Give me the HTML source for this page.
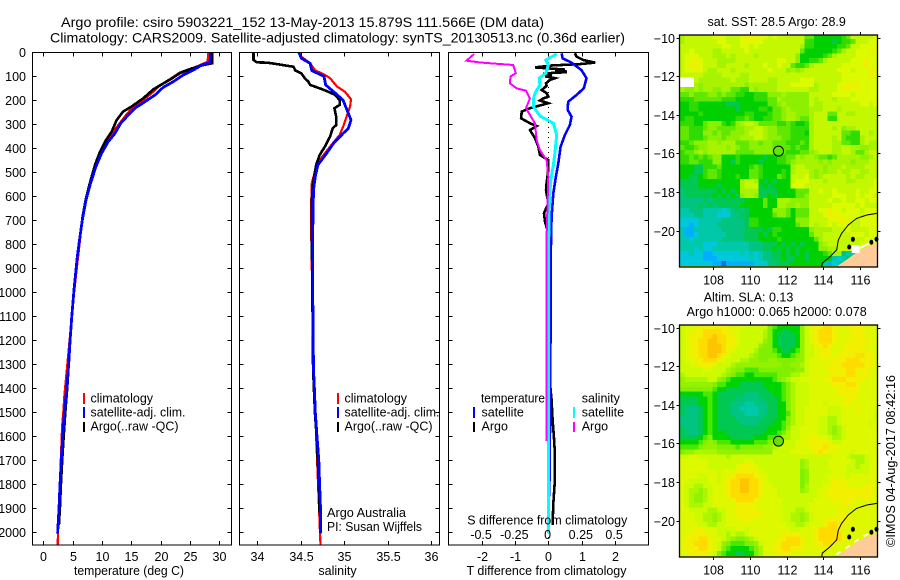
<!DOCTYPE html>
<html>
<head>
<meta charset="utf-8">
<title>Argo profile</title>
<style>
html,body{margin:0;padding:0;background:#fff;}
svg{display:block;}
text{font-family:"Liberation Sans",sans-serif;font-size:12.5px;fill:#000;}
</style>
</head>
<body>
<svg id="chart" xmlns="http://www.w3.org/2000/svg" width="900" height="580" viewBox="0 0 900 580">
<rect x="0" y="0" width="900" height="580" fill="#fff"/>
<text x="61" y="27" textLength="483" lengthAdjust="spacingAndGlyphs" style="font-size:14px">Argo profile: csiro 5903221_152 13-May-2013 15.879S 111.566E (DM data)</text>
<text x="50" y="42.5" textLength="575" lengthAdjust="spacingAndGlyphs" style="font-size:14px">Climatology: CARS2009. Satellite-adjusted climatology: synTS_20130513.nc (0.36d earlier)</text>

<g id="p1marks"></g>
<g id="p2marks"></g>
<g id="p3marks"></g>
<g id="axes"></g>

<rect x="32.5" y="52.5" width="199" height="492.5" fill="none" stroke="#000" shape-rendering="crispEdges"/>
<rect x="239.5" y="52.5" width="200" height="492.5" fill="none" stroke="#000" shape-rendering="crispEdges"/>
<rect x="448.5" y="52.5" width="200" height="492.5" fill="none" stroke="#000" shape-rendering="crispEdges"/>

<text x="129" y="575" text-anchor="middle" textLength="110" lengthAdjust="spacingAndGlyphs">temperature (deg C)</text>
<text x="337.5" y="575" text-anchor="middle">salinity</text>
<text x="546.5" y="575" text-anchor="middle" textLength="160" lengthAdjust="spacingAndGlyphs">T difference from climatology</text>
<text x="547.3" y="524.5" text-anchor="middle" textLength="160" lengthAdjust="spacingAndGlyphs">S difference from climatology</text>

<g>
<rect x="83" y="393" width="2" height="11" fill="#f00"/>
<text x="90.5" y="402.5">climatology</text>
<rect x="83" y="407" width="2" height="11" fill="#00f"/>
<text x="90.5" y="416.5" textLength="95" lengthAdjust="spacingAndGlyphs">satellite-adj. clim.</text>
<rect x="83" y="422" width="2" height="10" fill="#000"/>
<text x="90.5" y="430.5" textLength="88" lengthAdjust="spacingAndGlyphs">Argo(..raw -QC)</text>
</g>
<g>
<rect x="337" y="393" width="2" height="11" fill="#f00"/>
<text x="344.5" y="402.5">climatology</text>
<rect x="337" y="407" width="2" height="11" fill="#00f"/>
<text x="344.5" y="416.5" textLength="95" lengthAdjust="spacingAndGlyphs">satellite-adj. clim.</text>
<rect x="337" y="422" width="2" height="10" fill="#000"/>
<text x="344.5" y="430.5" textLength="88" lengthAdjust="spacingAndGlyphs">Argo(..raw -QC)</text>
</g>
<text x="327" y="517" textLength="79" lengthAdjust="spacingAndGlyphs">Argo Australia</text>
<text x="327" y="531" textLength="95" lengthAdjust="spacingAndGlyphs">PI: Susan Wijffels</text>
<g>
<text x="481" y="402.5" textLength="64" lengthAdjust="spacingAndGlyphs">temperature</text>
<rect x="473" y="407" width="2" height="11" fill="#00f"/>
<text x="481.5" y="416.5">satellite</text>
<rect x="473" y="422" width="2" height="10" fill="#000"/>
<text x="481.5" y="430.5">Argo</text>
<text x="581.7" y="402.5">salinity</text>
<rect x="573" y="407" width="2" height="11" fill="#0ff"/>
<text x="581.7" y="416.5">satellite</text>
<rect x="573" y="422" width="2" height="10" fill="#f0f"/>
<text x="581.7" y="430.5">Argo</text>
</g>

<g id="map1"></g>
<g id="map2"></g>

<text x="776.7" y="26" text-anchor="middle">sat. SST: 28.5  Argo: 28.9</text>
<text x="748.5" y="301.5" text-anchor="middle">Altim. SLA: 0.13</text>
<text x="776.7" y="316" text-anchor="middle" textLength="180" lengthAdjust="spacingAndGlyphs">Argo h1000: 0.065 h2000: 0.078</text>
<text transform="translate(895,547) rotate(-90)" textLength="172" lengthAdjust="spacingAndGlyphs">©IMOS 04-Aug-2017 08:42:16</text>
</svg>

<script>
// ---------- profile axis ticks ----------
var depthTicks = [0,100,200,300,400,500,600,700,800,900,1000,1100,1200,1300,1400,1500,1600,1700,1800,1900,2000];
var tempTicks = [0,5,10,15,20,25,30];
var salTicks = [34,34.5,35,35.5,36];
var tDiffTicks = [-2,-1,0,1,2];
var sDiffTicks = [-0.5,-0.25,0,0.25,0.5];
var sDiffTickLabels = ['-0.5','-0.25','0','0.25','0.5'];

// ---------- temperature profiles ----------
var tempClimDepth = [0,39,53,71,88,115,136,164,199,226,261,303,330,372,421,476,532,615,685,1000,1430,1500,1560,2000,2054];
var tempClimValue = [28.1,28.0,26.7,25,23.3,21.6,19.9,18.75,17.05,15.35,14.1,12.8,11.9,10.8,9.66,8.8,8.07,7.27,6.7,5.25,3.6,3.4,3.2,2.5,2.45];
var tempArgoDepth = [0,46,53,67,85,108,129,154,192,226,247,282,330,365,414,469,532,608,685,768,851,935,990,1100,1200,1300,1400,1500,1600,1700,1800,1900,1970];
var tempArgoValue = [28.8,28.8,27.3,25.3,23.3,21.9,20.5,18.75,17.0,15.05,13.6,12.5,11.65,10.7,9.66,8.8,8.07,7.27,6.7,6.25,5.8,5.45,5.23,4.85,4.56,4.32,4.08,3.75,3.47,3.22,3.0,2.82,2.65];
var tempSatDepth = [0,43,53,74,94,122,146,178,206,233,261,296,338,372,421,476,539,615,699,768,851,935,990,1100,1200,1300,1400,1500,1600,1700,1800,1900,2005];
var tempSatValue = [28.47,28.41,26.99,25.57,23.86,22.16,20.45,19.03,17.33,15.63,14.49,13.18,12.22,11.08,9.94,8.98,8.13,7.27,6.65,6.25,5.8,5.45,5.23,4.85,4.56,4.32,3.98,3.6,3.3,3.07,2.84,2.67,2.44];

// ---------- salinity profiles ----------
var salClimDepth = [0,18,46,76,90,108,143,164,196,226,268,310,344,393,449,490,546,671,1320,2054];
var salClimValue = [34.48,34.51,34.61,34.67,34.76,34.84,34.92,35.01,35.08,35.07,35.03,34.99,34.95,34.84,34.72,34.67,34.63,34.62,34.65,34.73];
var salArgoDepth = [0,32,42,43,49,56,60,76,88,108,122,136,150,164,178,199,219,233,268,303,317,351,393,428,469,511,560,615,754,1320,1500,1600,1800,1920];
var salArgoValue = [33.96,33.96,34.0,34.11,34.23,34.34,34.42,34.44,34.51,34.55,34.59,34.61,34.72,34.82,34.9,34.95,34.95,34.89,34.91,34.91,34.87,34.84,34.78,34.72,34.68,34.66,34.64,34.63,34.63,34.645,34.665,34.685,34.71,34.72];
var salSatDepth = [0,25,46,76,101,136,164,199,254,282,317,338,379,421,469,518,574,754,990,1320,1400,1500,1600,1700,1800,1900,2005];
var salSatValue = [34.48,34.51,34.61,34.63,34.77,34.79,34.88,34.99,35.05,35.08,35.05,34.99,34.88,34.8,34.7,34.67,34.65,34.64,34.64,34.65,34.66,34.67,34.69,34.71,34.72,34.73,34.73];

// ---------- difference profiles ----------
var diffTArgoDepth = [4,18,32,43,49,55,63,68,72,76,80,83,87,90,96,100,108,115,129,140,157,170,185,192,201,212,233,247,275,296,307,324,358,393,428,449,490,546,574,629,671,706,754,782,1000,1380,1449,1532,1602,1671,1782,1880,1970];
var diffTArgoValue = [0.80,0.85,1.05,1.41,0.95,0.1,-0.4,0.1,0.5,0.2,0.53,0.53,0,-0.15,0.1,-0.1,0.2,0.05,-0.07,-0.05,-0.2,-0.05,0,-0.15,-0.25,0,-0.55,-0.8,-0.82,-0.55,-0.35,-0.55,-0.4,-0.3,-0.25,0,0,-0.05,-0.07,0,-0.13,-0.1,0,-0.03,0.02,0.05,0.1,0.13,0.17,0.2,0.2,0.15,0.13];
var diffTSatDepth = [4,25,43,74,108,150,178,206,240,268,303,344,393,463,518,588,685,782,1000,1450,1850];
var diffTSatValue = [0.4,0.43,0.7,1.0,1.15,1.07,0.85,0.6,0.58,0.7,0.65,0.5,0.37,0.3,0.23,0.15,0.1,0.08,0.07,0.06,0.03];
var diffSArgoDepth = [7,35,43,53,87,101,129,150,160,192,233,296,365,407,449,518,768,1620];
var diffSArgoValue = [-0.558,-0.616,-0.503,-0.264,-0.244,-0.284,-0.289,-0.239,-0.168,-0.138,-0.168,-0.1,-0.088,-0.063,-0.013,0,-0.013,-0.015];
var diffSSatDepth = [7,32,53,87,108,136,171,196,226,265,296,344,421,469,532,615,712,782,1200,1800,2005];
var diffSSatValue = [0.063,-0.018,0,-0.018,-0.068,-0.063,-0.1,-0.113,-0.113,-0.063,0.038,0.063,0.05,0.038,0.018,0.008,0.005,0.003,0.003,0.002,0];

// ---------- map data: one character per 0.25-degree cell, hex level, w = no data ----------
var mapLonTicks = [108,110,112,114,116];
var mapLatTicks = [-10,-12,-14,-16,-18,-20];
var profileLon = 111.566;
var profileLat = -15.879;
var sstRows = [
"abbbbbbcccbbbcdcdccbcbbbbbb8866666678bbbbbc",
"abbbbbbbccbbbccdccbbbbbbbbb77666656778bbbcc",
"bbbbbbbbbccbbccbcbbbbbbbbba7766666778bbcccc",
"bbcbbbbaabbbbbcbbbbbbbbbbb866666678abbcccdc",
"bcccbbbaaababbbbabbbbbbbb96666678abbbbccccc",
"bccdcbbbaaaabbbbbbbbbccbb966778abbbbbcccdcc",
"bcddcbbbaabbbbabbbcbbcbb8778abbbbbbcccccdcc",
"bccdcbaabbbabbbbbbbcbbb9a9abbbbbbbcccbcccdc",
"bbbbbaaaabbbbaabbbbbbbbbbbbbbbbbbbbccccccdc",
"wwwbaaaaaaabaaabbbbaabbbbbcccbbbbbbcccccccc",
"wwwa9aaaaaaaaa9aaaaaabbbcccccabbbbccdddcccc",
"a99a9aa99aa8877a9aaaabbbbbbbaabbbbcddcdcccc",
"8898889989 8877667779 99a99999 bbbbbccccbccccc",
"7778888887 7766667778 8a999999 babbbabbbcccccc",
"6677666666 5556666668 89a99999 baabbbbbbbbccbc",
"6677666666 6656666776 889a9999 aaabbbabbbbbbbb",
"6666766666 6666776667 889aa999 abbb88bbaabbbbb",
"6776666666 6677876677 889aa988 abbb77bbbbbbbbb",
"777 66 8999 767 9 abba 8888 778 7667 abbbbbbbbbbbbbb",
"88 777 8998 888 99 aabba 99 888 7777 abbbbab9aabbbbb",
"88 777 9989 889 99 abbba 99 888 7776 abbbbbb8877bbab",
"88 777 8999 899 9a aabba 99 988 7777 abbbbab8777abbb",
"778 999 aa9aaa 888 99899 88 877787 abbbbaa8877abaa",
"877 899 aaaa9a 988 99999 88 887877 abbbbaabbaa99aa",
"788 9a9 aaaaaa 888 89999 88 877788 9abbbaabba88abb",
"77 87878 99 666 7 6666 6566 77 88a9a a98878aaaaa99ab",
"77 88777 99 665 7 6666 5666 77 89aaa aa9a9aaaa9aaabb",
"666 55 7778 666 666 787 666 666 abba aaa9aaabaaaabbb",
"666 55 7887 666 666 887 666 676 abbb a9a9aabaabbaabb",
"665 56 7887 666 766 887 666 876 bbbc a9abbbbbabaabbb",
"5555 666 666 666 abba 6 565 666 bccc bbbabbbbaabbbbc",
"5555 666 656 666 abbb 5 656 666 cccb bbbbbbbbbbbbbbc",
"4 555555 565656 aaaa 5555 6666 888 bbcbbcbbbbcbbcc",
"4 555555 656565 9aa9 5565 6666 889 bbbbbcccbbcbccb",
"4444 4545 555555 6666 8 66 aaa 9999 bbbbcbbcbbccbcc",
"4444 5454 555556 6666 8 66 aa9 9a99 bbbbbcccccbcbbb",
"33 444 33 3 323 4545 666 66 9998 6 888 bbccdccbcccbccc",
"33 344 33 3 222 4455 666 66 8998 6 888 bbbcddcccccbccc",
"2222 3333 3 44444 5 77 666 6666 6 999 bbbbccddccbcccc",
"2212 3333 4 44444 5 77 666 6666 6 899 babbcbcccbbcccc",
"3 11 333333 44444 555 565 77 666666 9aaaabbbcbbbbcc",
"3 11 233333 34444 555 656 76 666666 8aabbbbbbcccbcc",
"3 32 333333 44444 555 666 67 666666 68abbbbbbbbbccc",
"33333 222 3 333333 444 5556565656 669abbbbbbbcccc",
"33323 223 3 333333 444 5565656566 6699aabbbbbcbcb",
"22322 11 22 2222 32323 44 55656565 66678aa43355666",
"22222 11 12 2222 22323 44 55655665 666663234555666",
"2222222 11 0 11 1111 222 44 555 6666 666312345666666"
];
var slaRows = [
"bcccdddddddcccbbbbb87666669bcddeedccddddccc",
"bccddeeeeddccbbbbba86655669bcdeeedcccdddccc",
"bcdddeefeeddcbbbbba86555569bcdeeedcccdddccc",
"bcddeeffeeddcbbbbb986555569bcdeeedccdddddcc",
"bcddeefffeddcbbbb9886555569bbddedcccddddccc",
"bcddeefffedcbbbba8887655679bbcdddccddddddcc",
"bcddeeffedcbbbba98888766789bbcdddcddddeeddc",
"bccddeeedcbbbaa998899888899bcccdcdddeeedddc",
"bbccdddcbbba99999999998899abccccdddeeeeeddc",
"bbbbbccbbba9887778888888899bccccddddeedddcc",
"abbbbbbbba98776677777888aabbcccccdddeedddcc",
"9aaaaabb987666666666789abbcccccddeeeddddcc",
"99999998776665555566 6678abbbcccccdddeedcccc",
"88888887665555555556 6678abbbccccccdddddcccc",
"66666776555555444555 6678abbbccccccdddddcccc",
"55556676555544444455 5678abbbccccccccddccccc",
"55556676555444334445 5668abbbcccbcccddcccccc",
"54445676555443333445 5668abbcccccbbbcccdcccc",
"54445676555444333445 5667abbcccccbbbcccccccb",
"44445676555544444455 5668abbcccbbaabcccccccbc",
"44445676555554444555 6678abbcccbbaabccccccbc",
"54445676555555555556 6679bbccccbba9abcccc ccc",
"54445676665555555566 678abbccccbba9abccccccc",
"55556786666555556667 78aabbccddccbaabccccccc",
"66667898777666667778 9abbbcccddddcbbcccccccc",
"77778999888878888899 abbbbcccdddeddccccccccc",
"899aaaaa999999999999 bbbbcccccdedcccccbccccc",
"bbccbbbbbbabbbbbbbbbbbbbbbbbbbbbbcccbaaabcc",
"ccccccbbbbbbbbccbbbbbbbbbb9abbbbcccccbaabcc",
"ccccccbbbbbbcdddcbbbbbbbbb9abbbbccccbbabbcc",
"ccccccccbcccdddddcbbbbbbbb89bbbbbcccbbbbbcc",
"ccccbbccbccdeeeedccbbbbbbb89bbbbccccbcccccc",
"ccbbbbccbcdeeffeedcbbbbbbb89bbbbcdddccccccc",
"cbbaabbcccdeeffeedccbbbbbb8abbbccddddcccddc",
"cbaa9abcccdeeffeedcccbbbbb9abbccddddddddddc",
"cba99abcccdeeeeeedcccbbbbbbbbbccddddddddddc",
"cba99abccccdeeeedcccccbbbbbbbccccdddddccdcc",
"cbaaabbcccccddddccccccbbbbbbcccccccddcccccc",
"ccbbbbaabbccdddddcccccbbbaabccccccdcccccccc",
"cccbbaa9abccddddddccccbbaa9abcccccdddcccccc",
"cccbbaa9abcccdddccccccbbaa9abcccdddddcccccc",
"ccccbbaabbcccccccccccccbbaabcccdeeddccccccc",
"cccddcccbbbbccbcccccccccbbcccdeeeedcccccccc",
"ccddddccbbabaabcccccccddddcccdeeeeedccccccc",
"cdddeedccba9889abccccddeeedccdeeeeedccccccc",
"cddeeedcb98777889bccddeeeedccddeedccccccccc",
"cdddeedcb87666678accddeedddcccddccccccccccc",
"ccddddcb876655668acccdddccccccccccccccccccc"
];
var sstColors = {'0':'#0068ff','1':'#00b0ff','2':'#00c8dc','3':'#00c8a8','4':'#00c480','5':'#00c850','6':'#00d000','7':'#30dc00','8':'#60e800','9':'#8cf000','a':'#a8f400','b':'#c4f800','c':'#dcfa00','d':'#eef000','e':'#ffdc00','f':'#ffc400','w':'#ffffff'};
var slaColors = {'0':'#0060ff','1':'#00a8ff','2':'#00c8dc','3':'#00c8a8','4':'#00c480','5':'#00c850','6':'#00d400','7':'#48e800','8':'#80f000','9':'#94f200','a':'#acf600','b':'#ccfa00','c':'#def800','d':'#f0f000','e':'#ffdc00','f':'#ffc400','w':'#ffffff'};
var isobathLon = [113.91,113.94,114.36,114.72,114.81,114.99,115.35,115.80,116.35,116.93];
var isobathLat = [-21.87,-21.69,-21.35,-21.0,-20.49,-20.14,-19.71,-19.37,-19.19,-19.1];
var landLon = [114.69,115.27,115.98,116.93,116.93];
var landLat = [-21.87,-21.5,-21.0,-20.63,-21.87];
var shoreLon = [114.7,115.3,115.98,116.52,116.9];
var shoreLat = [-21.75,-21.38,-20.9,-20.65,-20.5];
var islandLon = [115.6,115.4,116.6,116.88];
var islandLat = [-20.45,-20.85,-20.6,-20.45];

var SVGNS = 'http://www.w3.org/2000/svg';
function yDepth(d){return 52.3 + d*0.24;}
function xTemp(t){return 43.3 + t*5.87;}
function xSal(s){return 257 + (s-34)*87;}
function xTDiff(t){return 548.3 + t*33.2;}
function xSDiff(s){return 548.3 + s*133;}
function xLon(l){return 712.7 + (l-108)*18.45;}
function yLat(l){return 37.6 + (-10-l)*19.3;}

function drawLine(parent, name, xs, ds, xf, color, w){
  var pts = [];
  for (var i=0;i<xs.length;i++){ pts.push(xf(xs[i]).toFixed(1)+','+yDepth(ds[i]).toFixed(1)); }
  var el = document.createElementNS(SVGNS,'polyline');
  
  
  el.setAttribute('points', pts.join(' '));
  el.setAttribute('fill','none');
  el.setAttribute('stroke',color);
  el.setAttribute('stroke-width',w);
  el.setAttribute('shape-rendering','crispEdges');
  parent.appendChild(el);
}
function addTick(parent, x1,y1,x2,y2){
  var el = document.createElementNS(SVGNS,'line');
  
  
  el.setAttribute('x1',x1); el.setAttribute('y1',y1);
  el.setAttribute('x2',x2); el.setAttribute('y2',y2);
  el.setAttribute('stroke','#000');
  el.setAttribute('shape-rendering','crispEdges');
  parent.appendChild(el);
}
function addLabel(parent, x,y,txt,anchor){
  var el = document.createElementNS(SVGNS,'text');
  
  
  el.setAttribute('x',x); el.setAttribute('y',y);
  el.setAttribute('text-anchor',anchor);
  el.textContent = txt;
  parent.appendChild(el);
}

var p1 = document.getElementById('p1marks');
drawLine(p1,'temperature-climatology-line',tempClimValue,tempClimDepth,xTemp,'#f00',2.2);
drawLine(p1,'temperature-argo-line',tempArgoValue,tempArgoDepth,xTemp,'#000',2.6);
drawLine(p1,'temperature-satellite-line',tempSatValue,tempSatDepth,xTemp,'#00f',2.8);
var p2 = document.getElementById('p2marks');
drawLine(p2,'salinity-climatology-line',salClimValue,salClimDepth,xSal,'#f00',2.2);
drawLine(p2,'salinity-argo-line',salArgoValue,salArgoDepth,xSal,'#000',2.6);
drawLine(p2,'salinity-satellite-line',salSatValue,salSatDepth,xSal,'#00f',2.8);
var p3 = document.getElementById('p3marks');
var zeroLine = document.createElementNS(SVGNS,'line');


zeroLine.setAttribute('x1',xTDiff(0)); zeroLine.setAttribute('x2',xTDiff(0));
zeroLine.setAttribute('y1',52); zeroLine.setAttribute('y2',545);
zeroLine.setAttribute('stroke','#000');
zeroLine.setAttribute('stroke-dasharray','1 4');
zeroLine.setAttribute('shape-rendering','crispEdges');
p3.appendChild(zeroLine);
drawLine(p3,'t-difference-argo-line',diffTArgoValue,diffTArgoDepth,xTDiff,'#000',2.6);
drawLine(p3,'t-difference-satellite-line',diffTSatValue,diffTSatDepth,xTDiff,'#00f',2.6);
drawLine(p3,'s-difference-satellite-line',diffSSatValue,diffSSatDepth,xSDiff,'#0ff',3);
drawLine(p3,'s-difference-argo-line',diffSArgoValue,diffSArgoDepth,xSDiff,'#f0f',2);

var ax = document.getElementById('axes');
depthTicks.forEach(function(d){
  var y = Math.round(yDepth(d))+0.5;
  addLabel(ax,26,y+4.5,String(d),'end');
  [[32.5,231.5],[239.5,439.5],[448.5,648.5]].forEach(function(f){
    addTick(ax,f[0],y,f[0]+4,y);
    addTick(ax,f[1],y,f[1]-4,y);
  });
});
tempTicks.forEach(function(t){
  var x = Math.round(xTemp(t))+0.5;
  addTick(ax,x,52.5,x,56.5); addTick(ax,x,545,x,541);
  addLabel(ax,x,561,String(t),'middle');
});
salTicks.forEach(function(s){
  var x = Math.round(xSal(s))+0.5;
  addTick(ax,x,52.5,x,56.5); addTick(ax,x,545,x,541);
  addLabel(ax,x,561,String(s),'middle');
});
tDiffTicks.forEach(function(t){
  var x = Math.round(xTDiff(t))+0.5;
  addTick(ax,x,52.5,x,56.5); addTick(ax,x,545,x,541);
  addLabel(ax,x,561,String(t),'middle');
});
sDiffTicks.forEach(function(s,i){
  addLabel(ax,xSDiff(s)-0.7,539,sDiffTickLabels[i],'middle');
});

function polyPoints(lons,lats,off){
  var pts=[];
  for (var i=0;i<lons.length;i++){ pts.push(xLon(lons[i]).toFixed(1)+','+(yLat(lats[i])+off).toFixed(1)); }
  return pts.join(' ');
}
function drawMap(group, rows, off, isSst, colors){
  var cellW = 0.25*18.45, cellH = 0.25*19.3;
  var left = 680, right = 877.5, top = 34.1, frameTop = 35.3, frameBot = 267;
  var bg = document.createElementNS(SVGNS,'rect');
  
  
  bg.setAttribute('x',left); bg.setAttribute('y',frameTop+off);
  bg.setAttribute('width',right-left); bg.setAttribute('height',frameBot-frameTop);
  bg.setAttribute('fill',colors['c']);
  group.appendChild(bg);
  rows.forEach(function(rawRow,r){
    var row = rawRow.replace(/ /g,'');
    for (var c=0;c<row.length;c++){
      var x = left + c*cellW;
      var y = Math.max(top + r*cellH, frameTop);
      var yEnd = Math.min(top + (r+1)*cellH, frameBot);
      var xEnd = Math.min(x+cellW, right);
      if (x>=right || yEnd<=y) continue;
      var cell = document.createElementNS(SVGNS,'rect');
      
      
      cell.setAttribute('x',x.toFixed(2));
      cell.setAttribute('y',(y+off).toFixed(2));
      cell.setAttribute('width',(xEnd-x+0.2).toFixed(2));
      cell.setAttribute('height',(yEnd-y+0.2).toFixed(2));
      cell.setAttribute('fill',colors[row.charAt(c)]||colors['c']);
      cell.setAttribute('shape-rendering','crispEdges');
      group.appendChild(cell);
    }
  });
  var shore = document.createElementNS(SVGNS,'polyline');
  
  
  shore.setAttribute('points',isSst?polyPoints(shoreLon.slice(2),shoreLat.slice(2),off):polyPoints(shoreLon,shoreLat,off));
  shore.setAttribute('fill','none');
  shore.setAttribute('stroke','#fff');
  shore.setAttribute('stroke-width',2);
  if (!isSst) { shore.setAttribute('stroke-dasharray','5 6'); }
  group.appendChild(shore);
  var land = document.createElementNS(SVGNS,'polygon');
  
  
  land.setAttribute('points',polyPoints(landLon,landLat,off));
  land.setAttribute('fill','#ffcc99');
  group.appendChild(land);
  if (isSst){
    var gap = document.createElementNS(SVGNS,'rect');
    
    
    gap.setAttribute('x',851.7); gap.setAttribute('y',245+off);
    gap.setAttribute('width',8); gap.setAttribute('height',8);
    gap.setAttribute('fill','#fff');
    group.appendChild(gap);
  }
  var iso = document.createElementNS(SVGNS,'polyline');
  
  
  iso.setAttribute('points',polyPoints(isobathLon,isobathLat,off));
  iso.setAttribute('fill','none');
  iso.setAttribute('stroke','#000');
  group.appendChild(iso);
  islandLon.forEach(function(l,i){
    var isl = document.createElementNS(SVGNS,'ellipse');
    
    
    isl.setAttribute('cx',xLon(l).toFixed(1));
    isl.setAttribute('cy',(yLat(islandLat[i])+off).toFixed(1));
    isl.setAttribute('rx',2); isl.setAttribute('ry',2.5);
    isl.setAttribute('fill','#000');
    group.appendChild(isl);
  });
  var frame = document.createElementNS(SVGNS,'rect');
  
  
  frame.setAttribute('x',679.5); frame.setAttribute('y',35+off);
  frame.setAttribute('width',198); frame.setAttribute('height',232);
  frame.setAttribute('fill','none');
  frame.setAttribute('stroke','#000');
  frame.setAttribute('stroke-width',1.3);
  group.appendChild(frame);
  mapLonTicks.forEach(function(l){
    var x = Math.round(xLon(l))+0.5;
    addTick(group,x,35+off,x,32+off);
    addTick(group,x,267+off,x,270+off);
    addLabel(group,x,284.5+off,String(l),'middle');
  });
  mapLatTicks.forEach(function(l){
    var y = Math.round(yLat(l))+0.5+off;
    addTick(group,679.5,y,676.5,y);
    addTick(group,877.5,y,880.5,y);
    addLabel(group,675,y+4.5,'\u2212'+Math.abs(l),'end');
  });
  var marker = document.createElementNS(SVGNS,'circle');
  
  
  marker.setAttribute('cx',xLon(profileLon).toFixed(1));
  marker.setAttribute('cy',(yLat(profileLat)+off).toFixed(1));
  marker.setAttribute('r',5);
  marker.setAttribute('fill',isSst?'none':'#66e000');
  marker.setAttribute('stroke','#000');
  group.appendChild(marker);
}
drawMap(document.getElementById('map1'),sstRows,0,true,sstColors);
drawMap(document.getElementById('map2'),slaRows,290,false,slaColors);
</script>
</body>
</html>
